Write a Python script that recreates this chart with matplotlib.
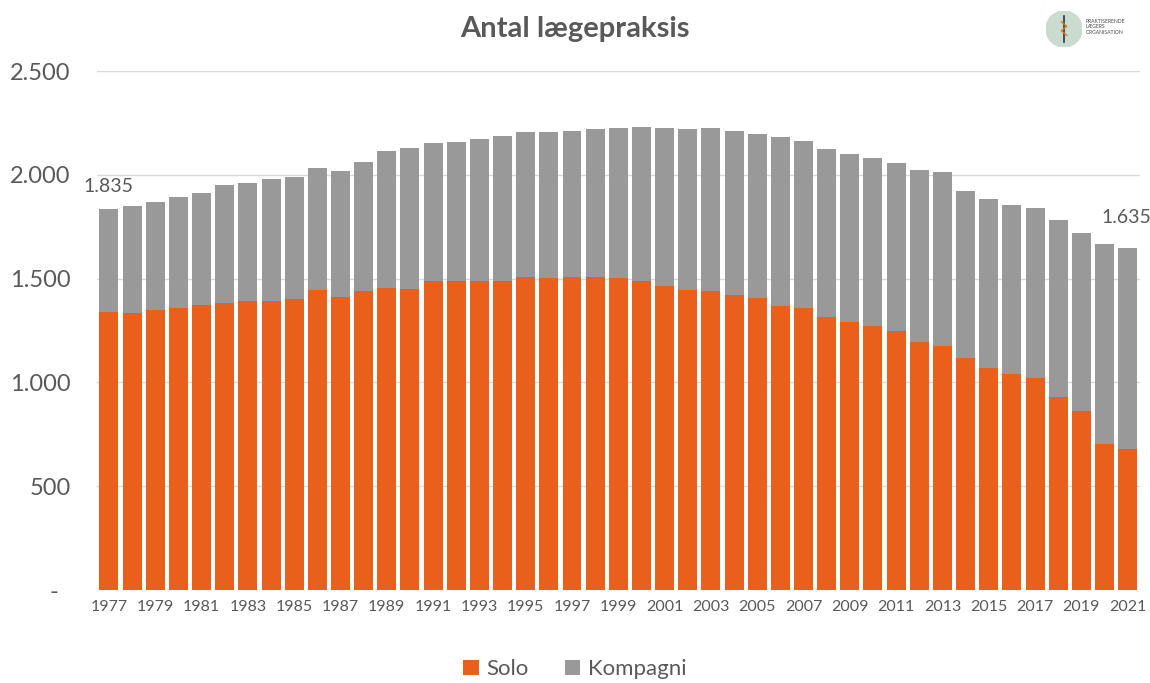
import numpy as np
import matplotlib
matplotlib.use('Agg')
import matplotlib.pyplot as plt
from matplotlib.patches import Circle

# data
years = list(range(1977, 2022))
solo = [1340, 1334, 1347, 1361, 1374, 1383, 1393, 1391, 1403, 1444,
        1411, 1440, 1454, 1451, 1488, 1491, 1488, 1491, 1510, 1505,
        1510, 1510, 1502, 1489, 1465, 1444, 1440, 1419, 1406, 1367,
        1359, 1316, 1289, 1271, 1246, 1193, 1178, 1120, 1072, 1040,
        1021, 931, 862, 706, 682]
total = [1835, 1850, 1868, 1894, 1911, 1951, 1963, 1979, 1988, 2035,
         2019, 2062, 2115, 2128, 2155, 2160, 2173, 2189, 2204, 2207,
         2213, 2221, 2224, 2231, 2224, 2221, 2224, 2211, 2199, 2181,
         2162, 2125, 2101, 2082, 2057, 2022, 2014, 1923, 1883, 1857,
         1841, 1783, 1720, 1666, 1650]
kompagni = [t - s for t, s in zip(total, solo)]
y_ticks = [0, 500, 1000, 1500, 2000, 2500]
y_labels = ['-  ', '500', '1.000', '1.500', '2.000', '2.500']
end_labels = {0: '1.835', 44: '1.635'}

plt.rcParams['font.family'] = ['Lato', 'DejaVu Sans']
txt = '#595959'
orange = '#E8601C'
grey = '#999999'

fig = plt.figure(figsize=(11.5, 6.83), dpi=100)
ax = fig.add_axes([0.0843, 0.136, 0.9067, 0.76])

x = np.arange(len(years))
ax.bar(x, solo, width=0.82, color=orange, label='Solo', zorder=3)
ax.bar(x, kompagni, width=0.82, bottom=solo, color=grey, label='Kompagni', zorder=3)

ax.set_xlim(-0.52, len(years) - 0.48)
ax.set_ylim(0, 2500)
ax.set_yticks(y_ticks)
ax.set_yticklabels(y_labels, fontsize=17, color=txt)
ax.set_xticks(x[::2])
ax.set_xticklabels([str(y) for y in years[::2]], fontsize=11.5, color=txt)
ax.tick_params(axis='both', length=0)
ax.tick_params(axis='y', pad=19)
ax.tick_params(axis='x', pad=7)
ax.grid(axis='y', color='#d9d9d9', lw=1, zorder=0)
for s in ax.spines.values():
    s.set_visible(False)

offs = {0: 14, 44: 22}
for i, lab in end_labels.items():
    ax.annotate(lab, (x[i], total[i]), xytext=(-1, offs[i]), textcoords='offset pixels',
                ha='center', va='bottom', fontsize=14, color=txt)

fig.text(0.5, 0.958, 'Antal lægepraksis', ha='center', va='center',
         fontsize=21, fontweight='bold', color=txt)

leg = fig.legend(loc='center', bbox_to_anchor=(0.5, 0.02), ncol=2, frameon=False,
                 fontsize=16, handlelength=0.7, handleheight=0.7, columnspacing=1.6,
                 handletextpad=0.35)
for t in leg.get_texts():
    t.set_color(txt)

# logo
lax = fig.add_axes([1046 / 1150, 1 - 47 / 683, 36 / 1150, 36 / 683])
lax.set_xlim(-1, 1)
lax.set_ylim(-1, 1)
lax.set_aspect('equal')
lax.axis('off')
lax.add_patch(Circle((0, 0), 1, color='#c9dccf'))
lax.plot([0, 0], [-0.7, 0.7], color='#333333', lw=1.2)
lax.plot([-0.15, 0.15, -0.15, 0.15], [0.4, 0.15, -0.1, -0.35], color='#d9772b', lw=1)
fig.text(1086 / 1150, 1 - 27 / 683, 'PRAKTISERENDE\nLÆGERS\nORGANISATION',
         fontsize=3.6, color='#444444', va='center', ha='left', linespacing=1.1)

fig.savefig('out.png', dpi=100)
